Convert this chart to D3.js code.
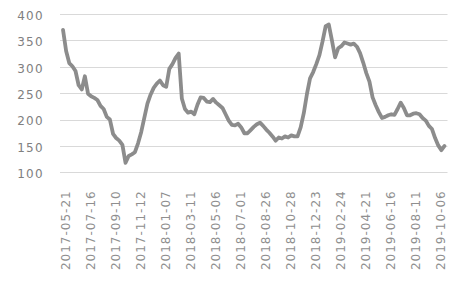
<!DOCTYPE html>
<html>
<head>
<meta charset="utf-8">
<script src="https://cdn.jsdelivr.net/npm/d3@7"></script>
<style>
  body { margin: 0; background: #fff; }
  text { font-family: "DejaVu Sans", sans-serif; }
</style>
</head>
<body>
<div id="vis"></div>
<script>
// weekly values, one category per week
let tickLabels = ['2017-05-21', '2017-07-16', '2017-09-10', '2017-11-12', '2018-01-07', '2018-03-11',
    '2018-05-06', '2018-07-01', '2018-08-26', '2018-10-28', '2018-12-23', '2019-02-24',
    '2019-04-21', '2019-06-16', '2019-08-11', '2019-10-06'];
let tickEvery = 8; // a label every 8 categories

let values = [370, 330, 307, 301, 292, 265, 257, 282, 249, 244,
    241, 237, 226, 220, 205, 200, 173, 165, 160, 152,
    118, 131, 134, 138, 155, 176, 203, 230, 247, 260,
    268, 274, 265, 262, 296, 305, 317, 325, 240, 220,
    213, 215, 210, 228, 242, 241, 234, 233, 239, 232,
    227, 222, 210, 198, 190, 189, 192, 185, 174, 174,
    180, 186, 191, 194, 188, 181, 175, 168, 160, 166,
    164, 168, 166, 170, 168, 168, 185, 212, 248, 278,
    290, 305, 322, 348, 377, 380, 350, 318, 335, 339,
    346, 344, 342, 344, 338, 326, 308, 288, 272, 242,
    227, 214, 203, 205, 208, 210, 209, 220, 232, 222,
    208, 208, 211, 212, 210, 203, 198, 188, 182, 165,
    151, 142, 150];

let yTicks = [100, 150, 200, 250, 300, 350, 400];

let width = 461, height = 288;

let svg = d3.select('#vis')
    .append('svg')
    .attr('width', width)
    .attr('height', height);

let x = d3.scalePoint()
    .domain(d3.range(values.length))
    .range([63, 444.5]);

let y = d3.scaleLinear()
    .domain([100, 400])
    .range([172.3, 14]);

// gridlines
svg.append('g')
    .selectAll('line')
    .data(yTicks)
    .join('line')
    .attr('x1', 60)
    .attr('x2', 447.5)
    .attr('y1', d => Math.round(y(d)) + 0.5)
    .attr('y2', d => Math.round(y(d)) + 0.5)
    .attr('stroke', '#d9d9d9')
    .attr('stroke-width', 1);

// y axis
let yAxis = svg.append('g')
    .attr('transform', 'translate(60,0)')
    .call(d3.axisLeft(y).tickValues(yTicks).tickSize(0).tickPadding(16));
yAxis.select('.domain').remove();
yAxis.selectAll('text')
    .attr('fill', '#808080')
    .attr('font-size', 12)
    .attr('dy', '0.45em')
    .style('letter-spacing', '1.3px');

// x axis, labels turned upright
let xAxis = svg.append('g')
    .attr('transform', 'translate(0,172.3)')
    .call(d3.axisBottom(x)
        .tickValues(d3.range(0, values.length, tickEvery))
        .tickFormat(i => tickLabels[i / tickEvery])
        .tickSize(0));
xAxis.select('.domain').remove();
xAxis.selectAll('text')
    .attr('fill', '#8f8f8f')
    .attr('font-size', 12)
    .attr('text-anchor', 'end')
    .attr('transform', 'rotate(-90)')
    .attr('x', -18)
    .attr('y', 2)
    .attr('dy', '0.35em')
    .style('letter-spacing', '1px');

// the series
let line = d3.line()
    .x((d, i) => x(i))
    .y(d => y(d));

svg.append('path')
    .datum(values)
    .attr('d', line)
    .attr('fill', 'none')
    .attr('stroke', '#8c8c8c')
    .attr('stroke-width', 3.8)
    .attr('stroke-linejoin', 'round')
    .attr('stroke-linecap', 'round');
</script>
</body>
</html>
